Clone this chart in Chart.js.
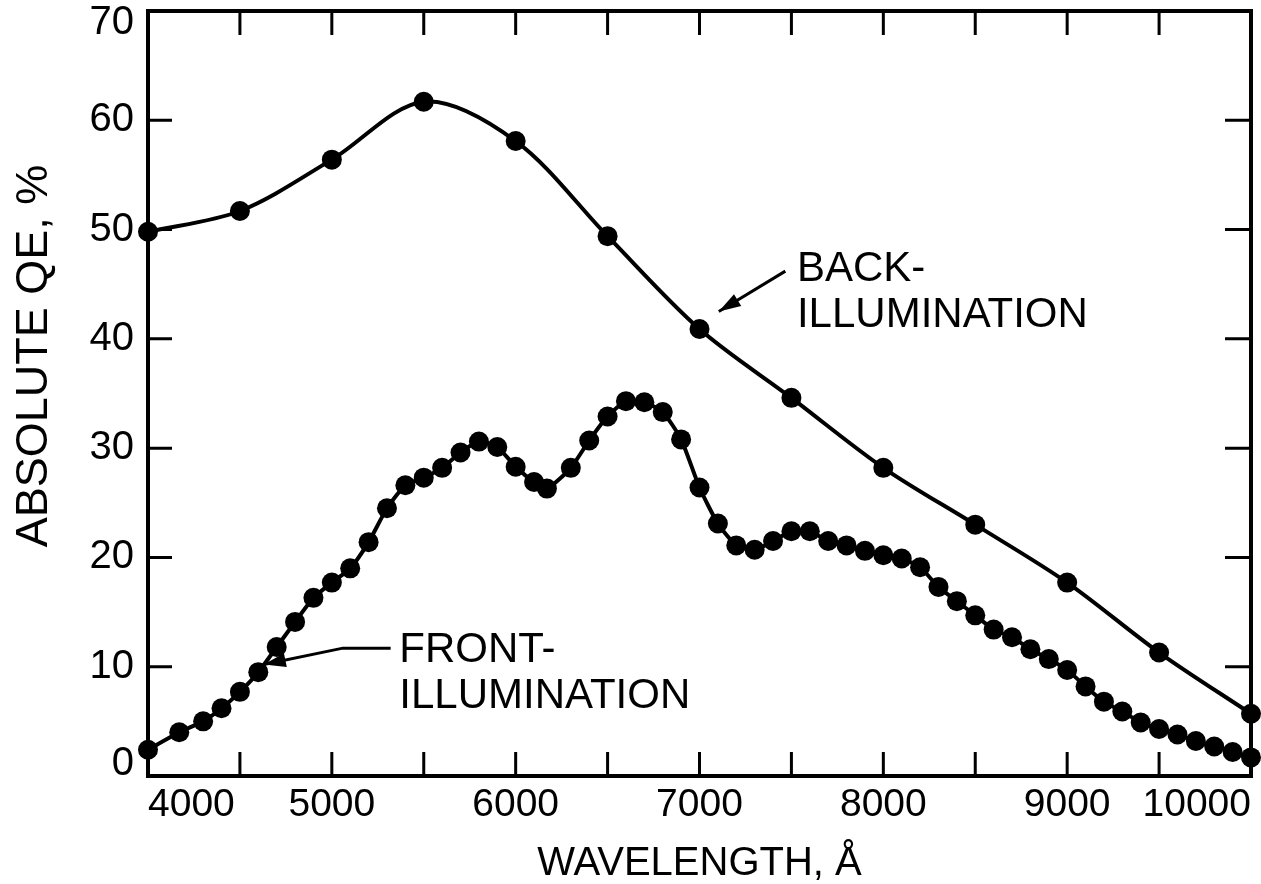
<!DOCTYPE html>
<html>
<head>
    <title>Absolute QE vs Wavelength</title>
    <script src="https://cdn.jsdelivr.net/npm/chart.js"></script>
    <style>
        body { margin: 0; background: #fff; }
        canvas { display: block; }
    </style>
</head>
<body>
    <canvas id="qeChart" width="1261" height="884"></canvas>

    <script>
        // wavelength in angstrom, QE in percent
        const backWavelengths = [4000, 4500, 5000, 5500, 6000, 6500, 7000, 7500, 8000, 8500, 9000, 9500, 10000];
        const backQE = [49.8, 51.7, 56.4, 61.7, 58.1, 49.4, 40.9, 34.6, 28.2, 23.0, 17.7, 11.3, 5.7];

        const frontWavelengths = [
            4000, 4170, 4300, 4400, 4500, 4600, 4700, 4800, 4900,
            5000, 5100, 5200, 5300, 5400, 5500, 5600, 5700, 5800, 5900,
            6000, 6100, 6170, 6300, 6400, 6500, 6600, 6700, 6800, 6900,
            7000, 7100, 7200, 7300, 7400, 7500, 7600, 7700, 7800, 7900,
            8000, 8100, 8200, 8300, 8400, 8500, 8600, 8700, 8800, 8900,
            9000, 9100, 9200, 9300, 9400, 9500, 9600, 9700, 9800, 9900,
            10000
        ];
        const frontQE = [
            2.4, 4.0, 5.0, 6.2, 7.7, 9.5, 11.8, 14.1, 16.3,
            17.7, 19.0, 21.4, 24.5, 26.6, 27.3, 28.2, 29.6, 30.6, 30.1,
            28.3, 26.9, 26.3, 28.2, 30.7, 32.9, 34.3, 34.2, 33.3, 30.8,
            26.4, 23.1, 21.1, 20.7, 21.5, 22.4, 22.4, 21.5, 21.1, 20.6,
            20.2, 19.9, 19.1, 17.3, 16.0, 14.7, 13.4, 12.7, 11.6, 10.7,
            9.7, 8.2, 6.8, 5.9, 4.9, 4.3, 3.8, 3.2, 2.7, 2.2,
            1.7
        ];

        const xLabelled = [4000, 5000, 6000, 7000, 8000, 9000, 10000];
        const yTicks = [0, 10, 20, 30, 40, 50, 60, 70];

        const FONT = "'Liberation Sans', Arial, Helvetica, sans-serif";
        Chart.defaults.font.family = FONT;
        Chart.defaults.color = '#000';

        const toPoints = (xs, ys) => xs.map((x, i) => ({x: x, y: ys[i]}));

        // labels with their leader arrows, placed in data units
        const notes = [
            {lines: ['BACK-', 'ILLUMINATION'], at: [7530, 45.3], arrow: [[7467, 46.2], [7105, 42.5]]},
            {lines: ['FRONT-', 'ILLUMINATION'], at: [5367, 10.4], arrow: [[5320, 11.7], [5060, 11.7], [4630, 10.2]]}
        ];

        const framePlugin = {
            id: 'frame',
            beforeDatasetsDraw(chart) {
                const {ctx, chartArea: a, scales: {x, y}} = chart;
                ctx.save();
                ctx.strokeStyle = '#000';
                ctx.lineWidth = 3;
                ctx.beginPath();
                x.ticks.forEach(t => {
                    const px = x.getPixelForValue(t.value);
                    ctx.moveTo(px, a.bottom); ctx.lineTo(px, a.bottom - 24);
                    ctx.moveTo(px, a.top); ctx.lineTo(px, a.top + 24);
                });
                y.ticks.forEach(t => {
                    const py = y.getPixelForValue(t.value);
                    ctx.moveTo(a.left, py); ctx.lineTo(a.left + 24, py);
                    ctx.moveTo(a.right, py); ctx.lineTo(a.right - 26, py);
                });
                ctx.stroke();
                ctx.lineWidth = 4;
                ctx.strokeRect(a.left, a.top, a.right - a.left, a.bottom - a.top);
                ctx.restore();
            }
        };

        const notesPlugin = {
            id: 'notes',
            afterDraw(chart) {
                const {ctx, scales: {x, y}} = chart;
                ctx.save();
                ctx.fillStyle = '#000';
                ctx.strokeStyle = '#000';
                ctx.font = '42px ' + FONT;
                ctx.textBaseline = 'alphabetic';
                notes.forEach(n => {
                    const tx = x.getPixelForValue(n.at[0]);
                    const ty = y.getPixelForValue(n.at[1]);
                    n.lines.forEach((s, i) => ctx.fillText(s, tx, ty + i * 46));

                    const pts = n.arrow.map(p => [x.getPixelForValue(p[0]), y.getPixelForValue(p[1])]);
                    ctx.lineWidth = 3;
                    ctx.beginPath();
                    ctx.moveTo(pts[0][0], pts[0][1]);
                    pts.slice(1).forEach(p => ctx.lineTo(p[0], p[1]));
                    ctx.stroke();

                    // arrow head along the last segment
                    const [x1, y1] = pts[pts.length - 2];
                    const [x2, y2] = pts[pts.length - 1];
                    const ang = Math.atan2(y2 - y1, x2 - x1);
                    ctx.save();
                    ctx.translate(x2, y2);
                    ctx.rotate(ang);
                    ctx.beginPath();
                    ctx.moveTo(0, 0);
                    ctx.lineTo(-22, -7);
                    ctx.lineTo(-22, 7);
                    ctx.closePath();
                    ctx.fill();
                    ctx.restore();
                });
                ctx.restore();
            }
        };

        new Chart(document.getElementById('qeChart'), {
            type: 'scatter',
            data: {
                datasets: [
                    {
                        label: 'Back-illumination',
                        data: toPoints(backWavelengths, backQE),
                        showLine: true,
                        borderColor: '#000',
                        backgroundColor: '#000',
                        borderWidth: 4,
                        tension: 0.32,
                        pointRadius: 10,
                        pointBorderWidth: 0,
                        clip: false
                    },
                    {
                        label: 'Front-illumination',
                        data: toPoints(frontWavelengths, frontQE),
                        showLine: true,
                        borderColor: '#000',
                        backgroundColor: '#000',
                        borderWidth: 4,
                        tension: 0.2,
                        pointRadius: 10,
                        pointBorderWidth: 0,
                        clip: false
                    }
                ]
            },
            options: {
                responsive: false,
                animation: false,
                layout: { padding: { top: 11, right: 7, left: 0, bottom: 0 } },
                plugins: {
                    legend: { display: false },
                    tooltip: { enabled: false }
                },
                scales: {
                    x: {
                        type: 'linear',
                        min: 4000,
                        max: 10000,
                        grid: { display: false, drawTicks: false },
                        border: { display: false },
                        ticks: {
                            stepSize: 500,
                            autoSkip: false,
                            maxRotation: 0,
                            align: 'inner',
                            padding: 6,
                            font: { size: 39 },
                            callback: v => xLabelled.includes(v) ? String(v) : ''
                        },
                        title: {
                            display: true,
                            text: 'WAVELENGTH, Å',
                            font: { size: 40 },
                            padding: { top: 0, bottom: -4 }
                        },
                        afterFit(scale) {
                            scale.height = 108;
                            scale.paddingLeft = 0;
                            scale.paddingRight = 0;
                        }
                    },
                    y: {
                        min: 0,
                        max: 70,
                        grid: { display: false, drawTicks: false },
                        border: { display: false },
                        afterBuildTicks(scale) {
                            scale.ticks = yTicks.map(v => ({value: v}));
                        },
                        ticks: {
                            padding: 14,
                            font: { size: 40, lineHeight: '24px' },
                            // end labels sit inside the frame, like the original
                            callback: v => v === 70 ? ['', '70'] : (v === 0 ? ['0', ''] : String(v))
                        },
                        title: {
                            display: true,
                            // leading spaces lift the title a little above centre, as in the original
                            text: '\u00a0\u00a0\u00a0\u00a0\u00a0\u00a0ABSOLUTE QE, %',
                            font: { size: 45 },
                            padding: { top: 8, bottom: 0 }
                        },
                        afterFit(scale) {
                            scale.width = 148;
                            scale.paddingTop = 0;
                            scale.paddingBottom = 0;
                        }
                    }
                }
            },
            plugins: [framePlugin, notesPlugin]
        });
    </script>
</body>
</html>
